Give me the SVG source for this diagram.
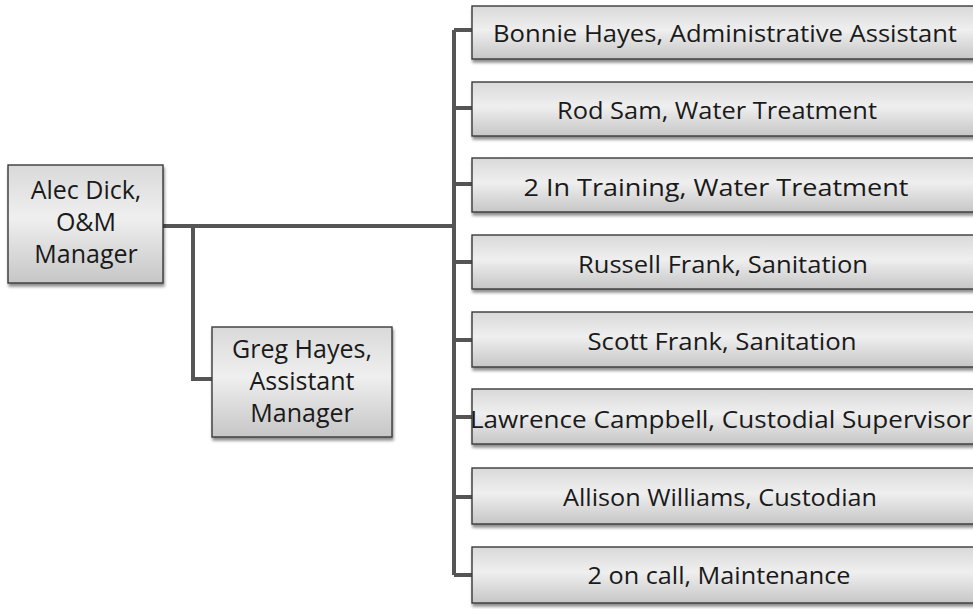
<svg xmlns="http://www.w3.org/2000/svg" width="973" height="609" viewBox="0 0 973 609">
  <defs>
    <linearGradient id="boxFill" x1="0" y1="0" x2="0" y2="1">
      <stop offset="0" stop-color="#d9d9d9"/>
      <stop offset="0.45" stop-color="#efefef"/>
      <stop offset="1" stop-color="#c6c6c6"/>
    </linearGradient>
    <filter id="shadow" x="-5%" y="-10%" width="110%" height="130%">
      <feGaussianBlur in="SourceAlpha" stdDeviation="1.6"/>
      <feOffset dx="1" dy="3" result="b"/>
      <feComponentTransfer><feFuncA type="linear" slope="0.45"/></feComponentTransfer>
      <feMerge><feMergeNode/><feMergeNode in="SourceGraphic"/></feMerge>
    </filter>
  </defs>
  <style>
    .box { fill: url(#boxFill); stroke: #3a3a3a; stroke-width: 1.4; filter: url(#shadow); }
    .lbl { font-family: "Open Sans", "Noto Sans", sans-serif; font-size: 24px; fill: #1a1a1a; text-anchor: middle; }
    .big { font-size: 25px; }
    .conn { fill: none; stroke: #555555; stroke-width: 4; stroke-linejoin: miter; }
  </style>
  <rect width="973" height="609" fill="#ffffff"/>

  <g id="connectors">
    <path class="conn" d="M163 226 H454"/>
    <path class="conn" d="M193 226 V379 H213"/>
    <path class="conn" d="M454 30 V575"/>
    <path class="conn" d="M454 30 H472 M454 108 H472 M454 184 H472 M454 262 H472 M454 340 H472 M454 417 H472 M454 497 H472 M454 575 H472"/>
  </g>

  <g id="alec-dick">
    <rect class="box" x="8" y="165" width="155" height="118"/>
    <text class="lbl big" x="86" y="199">Alec Dick,</text>
    <text class="lbl big" x="86" y="231">O&amp;M</text>
    <text class="lbl big" x="86" y="263">Manager</text>
  </g>

  <g id="greg-hayes">
    <rect class="box" x="212" y="327" width="180" height="110"/>
    <text class="lbl big" x="302" y="358">Greg Hayes,</text>
    <text class="lbl big" x="302" y="390">Assistant</text>
    <text class="lbl big" x="302" y="422">Manager</text>
  </g>

  <g id="bonnie-hayes">
    <rect class="box" x="472" y="6" width="520" height="53"/>
    <text class="lbl" x="725" y="42" textLength="464" lengthAdjust="spacingAndGlyphs">Bonnie Hayes, Administrative Assistant</text>
  </g>
  <g id="rod-sam">
    <rect class="box" x="472" y="82" width="520" height="54"/>
    <text class="lbl" x="717" y="119" textLength="320" lengthAdjust="spacingAndGlyphs">Rod Sam, Water Treatment</text>
  </g>
  <g id="in-training">
    <rect class="box" x="472" y="158" width="520" height="54"/>
    <text class="lbl" x="716" y="196" textLength="385" lengthAdjust="spacingAndGlyphs">2 In Training, Water Treatment</text>
  </g>
  <g id="russell-frank">
    <rect class="box" x="472" y="235" width="520" height="54"/>
    <text class="lbl" x="723" y="273" textLength="290" lengthAdjust="spacingAndGlyphs">Russell Frank, Sanitation</text>
  </g>
  <g id="scott-frank">
    <rect class="box" x="472" y="312" width="520" height="55"/>
    <text class="lbl" x="722" y="350" textLength="269" lengthAdjust="spacingAndGlyphs">Scott Frank, Sanitation</text>
  </g>
  <g id="lawrence-campbell">
    <rect class="box" x="472" y="389" width="520" height="55"/>
    <text class="lbl" x="721" y="428" textLength="502" lengthAdjust="spacingAndGlyphs">Lawrence Campbell, Custodial Supervisor</text>
  </g>
  <g id="allison-williams">
    <rect class="box" x="472" y="468" width="520" height="56"/>
    <text class="lbl" x="720" y="506" textLength="314" lengthAdjust="spacingAndGlyphs">Allison Williams, Custodian</text>
  </g>
  <g id="on-call">
    <rect class="box" x="472" y="547" width="520" height="56"/>
    <text class="lbl" x="719" y="584" textLength="263" lengthAdjust="spacingAndGlyphs">2 on call, Maintenance</text>
  </g>
</svg>
